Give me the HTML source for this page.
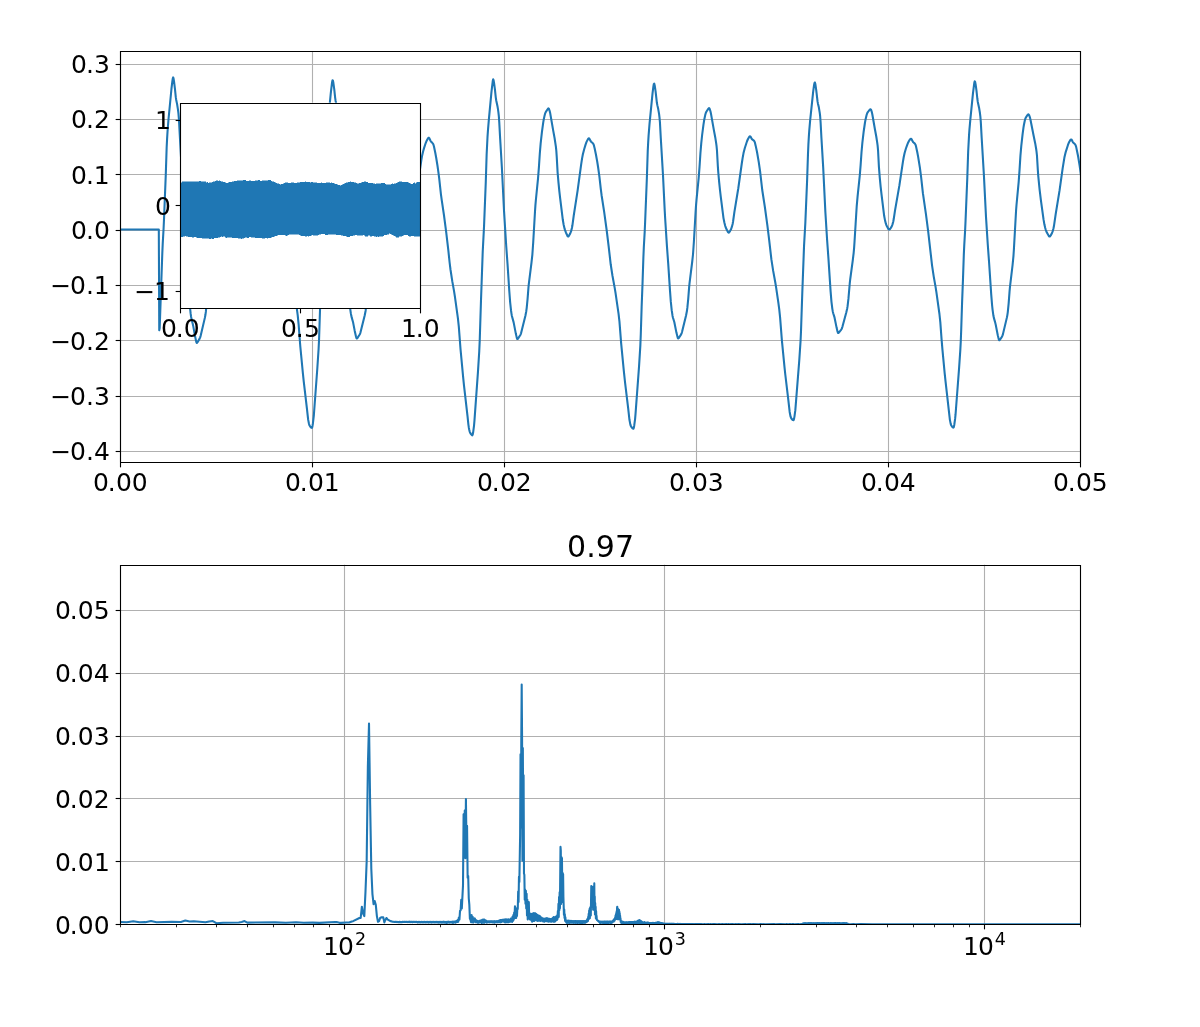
<!DOCTYPE html>
<html lang="en"><head><meta charset="utf-8"><title>0.97</title><style>html,body{margin:0;padding:0;background:#fff}svg{display:block}</style></head>
<body>
<svg width="1200" height="1027" viewBox="0 0 1200 1027" font-family="'DejaVu Sans','Liberation Sans',sans-serif" fill="#000">
<clipPath id="c1"><rect x="120" y="51.35" width="960" height="410.8"/></clipPath>
<clipPath id="c2"><rect x="120" y="564.85" width="960" height="359.45"/></clipPath>
<clipPath id="c3"><rect x="180" y="102.7" width="240" height="205.4"/></clipPath>
<rect width="1200" height="1027" fill="#fff"/>
<g id="ax1">
<path d="M120.5 51.35V462.15" stroke="#b0b0b0" stroke-width="1.111" fill="none"/>
<path d="M120.5 462.5V467.36" stroke="#000" stroke-width="1.111" fill="none"/>
<path d="M312.5 51.35V462.15" stroke="#b0b0b0" stroke-width="1.111" fill="none"/>
<path d="M312.5 462.5V467.36" stroke="#000" stroke-width="1.111" fill="none"/>
<path d="M504.5 51.35V462.15" stroke="#b0b0b0" stroke-width="1.111" fill="none"/>
<path d="M504.5 462.5V467.36" stroke="#000" stroke-width="1.111" fill="none"/>
<path d="M696.5 51.35V462.15" stroke="#b0b0b0" stroke-width="1.111" fill="none"/>
<path d="M696.5 462.5V467.36" stroke="#000" stroke-width="1.111" fill="none"/>
<path d="M888.5 51.35V462.15" stroke="#b0b0b0" stroke-width="1.111" fill="none"/>
<path d="M888.5 462.5V467.36" stroke="#000" stroke-width="1.111" fill="none"/>
<path d="M1080.5 51.35V462.15" stroke="#b0b0b0" stroke-width="1.111" fill="none"/>
<path d="M1080.5 462.5V467.36" stroke="#000" stroke-width="1.111" fill="none"/>
<path d="M120 451.5H1080" stroke="#b0b0b0" stroke-width="1.111" fill="none"/>
<path d="M115.64 451.5H120.5" stroke="#000" stroke-width="1.111" fill="none"/>
<path d="M120 396.5H1080" stroke="#b0b0b0" stroke-width="1.111" fill="none"/>
<path d="M115.64 396.5H120.5" stroke="#000" stroke-width="1.111" fill="none"/>
<path d="M120 340.5H1080" stroke="#b0b0b0" stroke-width="1.111" fill="none"/>
<path d="M115.64 340.5H120.5" stroke="#000" stroke-width="1.111" fill="none"/>
<path d="M120 285.5H1080" stroke="#b0b0b0" stroke-width="1.111" fill="none"/>
<path d="M115.64 285.5H120.5" stroke="#000" stroke-width="1.111" fill="none"/>
<path d="M120 230.5H1080" stroke="#b0b0b0" stroke-width="1.111" fill="none"/>
<path d="M115.64 230.5H120.5" stroke="#000" stroke-width="1.111" fill="none"/>
<path d="M120 174.5H1080" stroke="#b0b0b0" stroke-width="1.111" fill="none"/>
<path d="M115.64 174.5H120.5" stroke="#000" stroke-width="1.111" fill="none"/>
<path d="M120 119.5H1080" stroke="#b0b0b0" stroke-width="1.111" fill="none"/>
<path d="M115.64 119.5H120.5" stroke="#000" stroke-width="1.111" fill="none"/>
<path d="M120 64.5H1080" stroke="#b0b0b0" stroke-width="1.111" fill="none"/>
<path d="M115.64 64.5H120.5" stroke="#000" stroke-width="1.111" fill="none"/>
<text font-size="25" x="92.9 107.84 115.88 131.67" y="490.87">0.00</text>
<text font-size="25" x="284.9 299.84 307.88 323.63" y="490.87">0.01</text>
<text font-size="25" x="476.9 491.84 499.88 515.82" y="490.87">0.02</text>
<text font-size="25" x="668.9 683.84 691.88 707.85" y="490.87">0.03</text>
<text font-size="25" x="860.9 875.84 883.88 899.85" y="490.87">0.04</text>
<text font-size="25" x="1052.9 1067.84 1075.88 1091.76" y="490.87">0.05</text>
<text font-size="25" x="50.15 70 85.97 93.91" y="460.37">−0.4</text>
<text font-size="25" x="50.15 70 85.97 93.93" y="405.04">−0.3</text>
<text font-size="25" x="50.15 70 85.97 93.89" y="349.71">−0.2</text>
<text font-size="25" x="50.15 70 85.97 93.78" y="294.38">−0.1</text>
<text font-size="25" x="71 85.97 93.97" y="239.05">0.0</text>
<text font-size="25" x="71 85.97 93.78" y="183.72">0.1</text>
<text font-size="25" x="71 85.97 93.89" y="128.39">0.2</text>
<text font-size="25" x="71 85.97 93.93" y="73.06">0.3</text>
<path d="M119.63 229.55L158.81 229.55L159.25 330.25L159.69 328.04L162.3 253.34L162.73 243.63L163.6 228.31L164.04 218.44L165.78 174.63L166.65 147.76L167.09 138.88L167.52 131.69L168.39 120.49L171.44 88.98L172.31 81.69L172.75 78.66L173.18 77.4L173.62 78.79L174.05 81.67L174.92 88.67L175.79 97.21L176.23 99.98L177.1 104.16L177.97 109.6L178.41 113.17L178.84 118.05L181.89 172.9L183.2 201.15L184.07 217.95L185.81 246.49L187.11 265.27L188.86 293L189.73 304.82L190.6 313.21L191.03 316.42L191.47 318.88L192.77 323.93L193.21 325.9L194.95 335.68L196.26 341.88L196.69 342.96L197.13 342.73L197.56 342.15L199.74 338.37L200.18 337.37L200.61 335.93L204.96 317.38L205.4 315.03L205.84 311.94L206.71 303.4L208.01 287.2L211.06 262.07L211.49 257.88L211.93 252.67L212.37 245.92L214.54 208.34L214.98 202.95L217.15 180.61L217.59 175.47L218.9 156.2L219.77 145.26L221.07 133.09L222.38 123.25L222.81 120.61L223.69 116.29L224.12 114.52L224.56 113.18L224.99 112.24L226.73 109.38L227.17 108.73L227.6 108.39L228.04 108.81L228.91 111.34L229.78 115.61L232.39 130.72L233.7 137.74L235.01 146.48L235.44 150.6L236.75 172.72L237.62 182.64L238.49 191.19L239.36 198.78L241.97 219.64L242.84 224.3L243.71 227.84L244.15 229.23L245.02 231.42L246.32 234.15L246.76 234.91L247.2 235.05L247.63 234.75L248.5 233.53L249.37 231.94L250.24 229.63L251.11 226.37L251.55 223.93L252.86 214.57L257.21 187.51L260.69 162.55L261.56 157.13L262.43 152.96L263.74 148.17L265.05 144.08L265.92 141.71L266.35 140.73L267.66 138.39L268.09 137.88L268.53 137.7L268.96 138.07L270.27 140.63L270.71 141.16L272.01 142.26L272.45 142.73L272.88 143.36L273.32 144.47L274.19 148.12L275.49 154.49L277.24 164.85L278.54 174.18L280.72 193.3L283.33 210.7L285.94 230.23L287.69 244.85L289.86 264.23L291.6 275.67L293.78 287.79L294.65 293.33L296.83 308.57L297.7 315.23L298.57 323.78L300.31 346.47L302.92 373.67L303.79 381.83L306.84 407.83L308.15 419.63L309.02 424.02L309.45 425.31L310.32 426.69L310.76 427.22L311.2 427.62L311.63 427.85L312.07 427.74L312.5 425.95L312.94 423.23L313.81 415.72L317.29 368.76L318.6 348.82L319.03 340.16L320.34 299.96L322.08 250.89L323.39 226.25L325.13 182.77L326 155.63L326.43 145.14L326.87 137.08L327.3 130.47L328.18 119.99L330.79 93.12L332.09 82.24L332.53 80.29L332.96 80.77L333.4 83.05L334.27 89.36L335.14 97.53L335.58 100.7L336.88 106.74L337.75 112.25L338.19 116.02L338.62 121.83L339.49 137.92L341.24 167.02L342.98 202.43L343.85 218.29L345.59 245.7L346.9 263.67L348.64 290.32L349.51 301.82L350.38 310.03L350.81 313.15L351.25 315.59L351.69 317.39L352.99 321.92L354.73 330.91L356.04 336.81L356.47 338.27L356.91 338.51L357.35 338.13L359.52 334.78L359.96 333.96L360.39 332.85L364.75 315.26L365.62 310.7L366.49 303.07L367.79 287.08L368.23 282.79L370.84 261.99L371.71 253.88L372.58 241.14L374.32 210.83L374.76 204.58L377.37 177.65L378.24 166.42L379.11 153.07L379.55 147.57L380.42 138.63L381.29 131.22L382.16 124.67L383.03 119.35L383.9 115.28L384.34 113.67L384.77 112.52L385.21 111.69L386.95 109.11L387.39 108.57L387.82 108.38L388.26 108.99L388.69 110.22L389.13 111.64L389.56 113.64L392.61 131.09L393.92 138.09L395.22 146.93L395.66 151.21L396.53 167.04L396.96 173.32L397.84 183.1L398.71 191.55L399.58 199.08L402.19 219.8L403.06 224.4L403.93 227.9L404.37 229.28L405.24 231.44L406.54 234.16L406.98 234.91L407.41 235.05L407.85 234.75L408.72 233.53L409.59 231.96L410.46 229.66L411.33 226.45L411.77 224.04L413.07 214.72L417.43 187.8L420.04 168.84L421.35 160.13L422.22 155.17L423.09 151.48L423.96 148.4L425.7 143.05L426.57 140.9L427.88 138.53L428.31 137.96L428.75 137.71L429.18 138.01L429.62 138.81L430.49 140.76L430.92 141.41L432.23 142.75L433.1 143.92L433.54 144.93L433.97 146.54L435.28 152.77L436.15 157.46L437.45 165.49L438.32 171.56L439.2 178.43L440.94 194.27L441.81 200.63L443.98 215.25L446.16 231.87L448.34 250.45L449.64 262.75L450.52 269.75L452.26 281.13L454 290.9L454.87 296.44L457.92 318.42L458.79 326.36L460.53 349.26L463.14 377.14L464.01 385.64L467.49 415.96L468.37 424.36L468.8 427.48L469.24 429.78L469.67 431.59L470.11 432.66L470.98 434.11L471.85 435.08L472.28 435.32L472.72 434.62L473.15 432.3L474.03 425.54L474.46 420.57L477.94 372.15L479.25 351.2L479.69 341.4L480.99 300.56L482.73 251.52L484.04 226.41L485.78 182.06L486.65 154.33L487.52 136.8L487.96 130.32L488.83 119.81L491.44 92.06L492.75 81.04L493.18 79.36L493.62 80.31L494.05 82.85L494.92 89.31L495.79 97.55L496.23 100.48L497.54 106.56L497.97 109.2L498.41 112.28L498.84 116.23L499.28 122.61L500.15 138.61L501.89 167.77L504.07 211.77L506.24 246.3L507.55 264.33L509.29 290.99L510.16 302.37L511.03 310.48L511.47 313.57L511.9 315.98L513.64 322.37L515.82 333.59L516.69 337.39L517.13 338.84L517.56 339.05L518 338.66L520.18 335.27L520.61 334.45L521.05 333.33L525.4 315.72L526.27 311.19L526.71 307.78L527.58 298.88L528.45 287.68L528.88 283.34L531.49 262.54L532.37 254.53L533.24 242.02L534.98 211.74L535.41 205.35L535.85 200.28L538.03 178.39L538.9 167.33L539.77 154.05L540.64 143.61L541.94 131.83L543.25 122.32L543.69 119.79L544.56 115.64L544.99 113.97L545.43 112.73L545.86 111.87L547.6 109.25L548.04 108.66L548.47 108.38L548.91 108.84L549.35 110.01L549.78 111.42L550.22 113.32L553.26 130.91L554.57 137.97L555.88 146.63L556.31 150.61L556.75 157.07L557.62 172.58L558.49 182.67L559.36 191.32L560.23 198.98L562.84 220.04L563.71 224.95L564.58 228.66L565.02 230.14L565.89 232.47L567.2 235.28L567.63 236.18L568.07 236.57L568.5 236.34L568.94 235.83L570.24 233.49L571.11 231.13L571.98 227.78L572.42 225.27L573.73 215.59L577.64 190.45L581.13 164.59L582 158.86L582.87 154.29L584.18 149.2L585.48 144.91L586.35 142.41L586.79 141.38L588.09 138.92L588.53 138.41L588.96 138.27L589.4 138.7L590.71 141.22L591.14 141.73L592.88 143.26L593.32 143.86L593.75 144.86L594.62 148.32L595.93 154.47L597.24 161.75L598.11 167.23L599.41 176.69L600.72 188.32L601.59 195.24L604.2 212.12L606.81 231.24L608.56 245.53L610.73 264.51L612.47 275.77L614.65 287.59L615.52 292.9L618.57 313.91L619.44 321.43L621.18 343.56L623.79 370.6L625.1 382.77L628.15 408.11L629.45 419.79L630.32 424.37L630.76 425.83L631.2 426.64L632.07 427.86L632.5 428.3L632.94 428.6L633.37 428.73L633.81 427.74L634.24 425.44L635.11 418.81L635.55 413.63L639.03 366.69L640.34 345.63L640.77 334.74L641.64 306.95L642.52 283.59L643.39 257.29L643.82 247.26L644.69 231.92L645.13 222.07L646.87 177.94L647.74 151.1L648.18 142.39L648.61 135.36L649.48 124.44L652.53 93.47L653.4 86.49L653.84 83.99L654.27 83.66L654.71 85.41L655.58 91.46L656.88 102.81L657.32 105.13L658.19 108.83L659.06 113.94L659.49 117.36L659.93 122.23L660.8 138.19L662.98 174.81L664.72 210.64L665.15 218.29L666.9 245.63L668.2 263.44L669.94 289.92L670.81 301.66L671.69 310.13L672.56 315.89L672.99 317.74L674.3 322.06L676.47 332.86L677.78 338.11L678.22 338.53L678.65 338.22L680.83 334.88L681.26 334.09L681.7 333.04L682.13 331.52L686.05 315.46L686.92 311.02L687.36 307.7L688.23 298.9L689.1 287.62L689.54 283.18L692.15 262.25L693.02 254.25L693.89 241.73L695.63 211.3L696.07 204.9L696.5 199.81L698.68 177.81L699.55 166.63L700.42 153.27L701.29 142.91L702.16 134.76L703.47 124.57L704.34 119.2L705.21 115.1L705.64 113.47L706.08 112.29L706.52 111.46L708.26 108.86L708.69 108.31L709.13 108.1L709.56 108.66L710 109.83L710.43 111.21L710.87 113.16L713.92 130.31L715.22 137.19L716.09 142.67L716.53 145.95L716.96 150.24L717.84 166.09L718.27 172.25L719.14 181.91L720.01 190.26L720.88 197.69L723.49 218.12L724.37 222.57L725.24 225.95L725.67 227.26L726.54 229.31L727.85 231.89L728.28 232.55L728.72 232.61L729.15 232.3L730.03 231.09L730.9 229.54L731.77 227.22L732.64 223.96L733.07 221.48L734.38 212.2L738.3 188.25L741.78 163.49L742.65 157.89L743.52 153.09L744.83 147.95L747.01 141.28L747.88 139.22L748.75 137.65L749.18 136.96L749.62 136.47L750.05 136.31L750.49 136.62L751.79 138.99L752.23 139.45L753.54 140.36L753.97 140.76L754.41 141.33L754.84 142.37L755.71 145.88L757.02 152.04L758.76 162.12L760.07 171.22L762.24 190L764.86 206.99L767.47 226.08L769.21 240.4L771.39 259.46L773.13 270.68L775.3 282.46L776.18 287.84L778.35 302.71L779.22 309.17L780.09 317.4L781.84 339.83L784.45 366.68L785.32 374.75L788.37 400.27L789.67 411.98L790.54 416.44L790.98 417.79L791.41 418.5L792.28 419.58L792.72 419.94L793.15 420.14L793.59 420.16L794.03 418.84L794.46 416.57L795.33 410.14L799.25 360.65L800.56 340.98L800.99 331.36L802.3 292.5L804.04 245.88L805.35 222.62L807.09 180.91L807.96 154.76L808.39 144.65L808.83 136.92L809.26 130.6L810.13 120.66L813.18 91.71L814.05 85.23L814.49 82.88L814.92 82.47L815.36 84.09L816.23 90.11L817.54 101.42L817.97 103.64L818.84 107.3L819.71 112.58L820.15 116.24L820.58 121.96L821.45 138.19L823.2 167.61L825.37 212L827.11 239.97L828.42 258.15L830.6 291.35L831.47 301.79L832.34 308.85L832.77 311.4L833.21 313.2L834.52 317.42L836.69 328.09L837.56 331.66L838 332.9L838.43 333L838.87 332.69L841.05 329.9L841.48 329.23L841.92 328.32L842.35 326.97L846.27 312.43L847.14 308.73L847.58 306.19L848.45 298.71L849.75 283.48L850.19 279.5L852.8 260.08L853.67 252.77L854.11 247.87L854.54 241.55L856.72 206.06L857.59 196.32L859.77 175.66L860.64 164.92L861.51 152.25L862.38 142.55L863.69 131.49L864.99 122.51L865.43 120.09L866.3 116.17L866.73 114.54L867.17 113.28L867.6 112.44L868.04 111.81L869.78 109.71L870.22 109.33L870.65 109.27L871.09 109.93L871.52 111.15L871.96 112.64L872.39 114.8L875.01 129.8L876.31 136.75L877.18 142.3L877.62 145.68L878.05 150.31L878.92 166.9L879.79 177.89L880.66 186.87L881.54 194.7L884.15 215.8L885.02 220.37L885.89 223.7L886.32 224.95L887.2 226.85L888.5 229.23L888.94 229.55L889.37 229.51L889.81 229.22L890.68 228.15L891.55 226.78L892.42 224.61L893.29 221.48L893.73 219.03L895.03 210.32L899.39 185.38L902.87 162.1L903.74 156.99L904.61 152.93L905.92 148.48L907.22 144.83L908.09 142.66L908.96 140.97L909.84 139.68L910.27 139.15L910.71 138.83L911.14 138.83L911.58 139.28L912.88 141.83L913.32 142.3L914.62 143.39L915.06 143.91L915.49 144.66L915.93 146.04L917.24 152.04L918.11 156.59L919.85 167.43L921.15 177.37L922.9 193.22L925.94 214.14L928.12 230.87L932.04 265.37L933.78 276.86L935.52 286.57L936.39 292.04L939.44 313.99L940.31 322.14L941.62 339.89L942.49 350.21L944.66 373.12L945.54 381.48L949.89 419.86L950.76 424.12L951.2 425.27L952.07 426.6L952.5 427.1L952.94 427.45L953.37 427.62L953.81 427.03L954.24 425.02L955.11 418.89L955.55 414.47L959.03 368.87L960.34 349.62L960.77 341.45L961.21 329.6L962.08 302.65L962.95 280.15L963.82 254.56L964.26 245.08L965.13 230.17L965.56 220.59L967.3 177.79L968.18 151.2L969.05 135.11L969.48 129.13L970.35 119.36L972.96 93.46L974.27 83.12L974.71 81.36L975.14 81.92L975.58 84.2L976.45 90.44L977.32 98.51L977.75 101.71L979.06 107.7L979.93 113.04L980.37 116.61L980.8 121.86L981.67 137.76L983.85 174.11L986.03 217.33L987.77 244.53L989.07 262.27L991.25 294.89L992.12 305.51L992.56 309.57L993.43 315.79L993.86 317.91L995.17 322.38L995.6 324.17L997.78 335.19L998.65 338.88L999.09 340.1L999.52 340.14L999.96 339.71L1001.7 337.09L1002.13 336.36L1002.57 335.37L1003.01 333.87L1006.92 317.38L1007.36 315.1L1007.79 312.11L1008.66 303.4L1009.54 291.65L1009.97 286.85L1012.58 265L1013.45 256.11L1013.89 249.54L1016.07 210.51L1016.5 204.98L1018.68 181.85L1019.55 169.89L1020.42 155.91L1021.29 145.82L1022.6 134.12L1023.47 127.65L1023.9 125.01L1024.77 120.75L1025.21 119.1L1025.64 117.95L1026.08 117.17L1027.82 114.7L1028.26 114.32L1028.69 114.42L1029.13 115.18L1029.56 116.31L1030 117.62L1030.43 119.48L1033.48 135.04L1035.22 143.43L1036.09 148.5L1036.53 151.55L1036.96 155.51L1037.84 170.07L1038.27 176.1L1039.58 189.29L1040.88 200.05L1043.49 219.15L1044.37 224.31L1045.24 227.97L1045.67 229.48L1046.11 230.78L1046.98 232.79L1048.72 235.83L1049.15 236.44L1049.59 236.56L1050.03 236.3L1050.9 235.13L1051.77 233.6L1052.64 231.4L1053.51 228.3L1053.94 226.06L1055.69 214.08L1059.6 190.16L1062.65 168.36L1064.39 157.56L1065.7 152.09L1067.88 145.2L1068.75 142.95L1069.18 142.06L1070.49 139.85L1070.92 139.44L1071.36 139.42L1071.79 139.96L1072.66 141.8L1073.1 142.49L1074.84 144.06L1075.28 144.61L1075.71 145.44L1076.15 146.91L1077.89 155.2L1079.63 165.57L1080.94 174.93L1082.68 190.74" stroke="#1f77b4" stroke-width="2.083" fill="none" stroke-linejoin="round" stroke-linecap="square" clip-path="url(#c1)"/>
<path d="M120.5 462.5V51.5M1080.5 462.5V51.5M120.5 462.5H1080.5M120.5 51.5H1080.5" stroke="#000" stroke-width="1.111" fill="none" stroke-linecap="square"/>
</g>
<g id="ax2">
<path d="M344.5 564.85V924.3" stroke="#b0b0b0" stroke-width="1.111" fill="none"/>
<path d="M344.5 924.5V929.36" stroke="#000" stroke-width="1.111" fill="none"/>
<path d="M664.5 564.85V924.3" stroke="#b0b0b0" stroke-width="1.111" fill="none"/>
<path d="M664.5 924.5V929.36" stroke="#000" stroke-width="1.111" fill="none"/>
<path d="M984.5 564.85V924.3" stroke="#b0b0b0" stroke-width="1.111" fill="none"/>
<path d="M984.5 924.5V929.36" stroke="#000" stroke-width="1.111" fill="none"/>
<path d="M120.5 924.5V927.28" stroke="#000" stroke-width="0.833" fill="none"/>
<path d="M176.5 924.5V927.28" stroke="#000" stroke-width="0.833" fill="none"/>
<path d="M216.5 924.5V927.28" stroke="#000" stroke-width="0.833" fill="none"/>
<path d="M247.5 924.5V927.28" stroke="#000" stroke-width="0.833" fill="none"/>
<path d="M273.5 924.5V927.28" stroke="#000" stroke-width="0.833" fill="none"/>
<path d="M294.5 924.5V927.28" stroke="#000" stroke-width="0.833" fill="none"/>
<path d="M313.5 924.5V927.28" stroke="#000" stroke-width="0.833" fill="none"/>
<path d="M329.5 924.5V927.28" stroke="#000" stroke-width="0.833" fill="none"/>
<path d="M440.5 924.5V927.28" stroke="#000" stroke-width="0.833" fill="none"/>
<path d="M496.5 924.5V927.28" stroke="#000" stroke-width="0.833" fill="none"/>
<path d="M536.5 924.5V927.28" stroke="#000" stroke-width="0.833" fill="none"/>
<path d="M567.5 924.5V927.28" stroke="#000" stroke-width="0.833" fill="none"/>
<path d="M593.5 924.5V927.28" stroke="#000" stroke-width="0.833" fill="none"/>
<path d="M614.5 924.5V927.28" stroke="#000" stroke-width="0.833" fill="none"/>
<path d="M633.5 924.5V927.28" stroke="#000" stroke-width="0.833" fill="none"/>
<path d="M649.5 924.5V927.28" stroke="#000" stroke-width="0.833" fill="none"/>
<path d="M760.5 924.5V927.28" stroke="#000" stroke-width="0.833" fill="none"/>
<path d="M816.5 924.5V927.28" stroke="#000" stroke-width="0.833" fill="none"/>
<path d="M856.5 924.5V927.28" stroke="#000" stroke-width="0.833" fill="none"/>
<path d="M887.5 924.5V927.28" stroke="#000" stroke-width="0.833" fill="none"/>
<path d="M913.5 924.5V927.28" stroke="#000" stroke-width="0.833" fill="none"/>
<path d="M934.5 924.5V927.28" stroke="#000" stroke-width="0.833" fill="none"/>
<path d="M953.5 924.5V927.28" stroke="#000" stroke-width="0.833" fill="none"/>
<path d="M969.5 924.5V927.28" stroke="#000" stroke-width="0.833" fill="none"/>
<path d="M1080.5 924.5V927.28" stroke="#000" stroke-width="0.833" fill="none"/>
<path d="M120 924.5H1080" stroke="#b0b0b0" stroke-width="1.111" fill="none"/>
<path d="M115.64 924.5H120.5" stroke="#000" stroke-width="1.111" fill="none"/>
<path d="M120 861.5H1080" stroke="#b0b0b0" stroke-width="1.111" fill="none"/>
<path d="M115.64 861.5H120.5" stroke="#000" stroke-width="1.111" fill="none"/>
<path d="M120 798.5H1080" stroke="#b0b0b0" stroke-width="1.111" fill="none"/>
<path d="M115.64 798.5H120.5" stroke="#000" stroke-width="1.111" fill="none"/>
<path d="M120 736.5H1080" stroke="#b0b0b0" stroke-width="1.111" fill="none"/>
<path d="M115.64 736.5H120.5" stroke="#000" stroke-width="1.111" fill="none"/>
<path d="M120 673.5H1080" stroke="#b0b0b0" stroke-width="1.111" fill="none"/>
<path d="M115.64 673.5H120.5" stroke="#000" stroke-width="1.111" fill="none"/>
<path d="M120 610.5H1080" stroke="#b0b0b0" stroke-width="1.111" fill="none"/>
<path d="M115.64 610.5H120.5" stroke="#000" stroke-width="1.111" fill="none"/>
<text font-size="25"><tspan x="322.89" y="954.97">1</tspan><tspan x="338.06" y="954.97">0</tspan><tspan x="354.92" y="945.4" font-size="17.5">2</tspan></text>
<text font-size="25"><tspan x="642.89" y="954.97">1</tspan><tspan x="658.06" y="954.97">0</tspan><tspan x="674.87" y="945.4" font-size="17.5">3</tspan></text>
<text font-size="25"><tspan x="962.89" y="954.74">1</tspan><tspan x="978.06" y="954.74">0</tspan><tspan x="994.86" y="945.17" font-size="17.5">4</tspan></text>
<text font-size="25" x="55.1 69.78 77.82 93.86" y="933.8">0.00</text>
<text font-size="25" x="55.1 69.78 77.82 93.88" y="870.88">0.01</text>
<text font-size="25" x="55.1 69.78 77.82 93.76" y="807.96">0.02</text>
<text font-size="25" x="55.1 69.78 77.82 93.8" y="745.04">0.03</text>
<text font-size="25" x="55.1 69.78 77.82 93.8" y="682.13">0.04</text>
<text font-size="25" x="55.1 69.78 77.82 93.7" y="619.21">0.05</text>
<text font-size="30" x="566.92 586.25 595.83 615.02" y="556.52">0.97</text>
<path d="M112.87 922.02L120 921.97L126.78 922.22L133.25 921.26L139.42 922.21L145.34 922.15L151.01 921.08L156.46 922.22L171.64 921.85L180.91 921.94L185.32 920.55L189.59 921.54L193.74 921.27L205.49 922.18L209.2 921.42L212.81 921.04L216.33 923.2L223.11 922.71L238.74 922.49L241.67 921.96L244.53 921.11L247.34 922.64L274.98 922.35L285.92 922.69L296.07 922.26L303.69 922.83L312.66 922.62L319.44 922.84L335.07 922.03L336.54 922.11L339.44 922.84L340.86 922.91L346.42 922.49L349.12 922.57L351.77 921.47L353.07 921.15L359.42 918.01L360.66 918.01L361.88 906.68L363.09 913.6L364.3 916.12L365.49 891.58L366.67 861.38L367.85 767.01L369.01 723.59L370.16 804.76L371.31 868.93L372.44 894.1L373.57 904.17L374.68 901.02L375.79 904.8L376.89 916.12L377.98 921.78L379.06 921.15L380.13 918.01L381.2 917.38L383.3 917.38L384.34 922.41L385.38 919.9L386.4 918.01L387.42 919.27L390.43 921.15L391.42 921.32L392.4 921.75L393.38 921.73L394.35 922.05L395.31 921.81L396.26 922.11L397.21 921.86L398.15 922.21L399.09 921.88L400.02 922.12L400.94 921.9L401.86 922.22L402.77 921.83L403.68 922.07L404.58 921.81L405.47 922.07L406.36 921.73L407.24 922.12L408.12 921.7L408.99 922.21L409.85 921.64L410.72 922.18L411.57 921.7L412.42 922.28L413.27 921.72L414.1 922.12L414.94 921.72L415.77 922.16L416.59 921.81L417.41 922.45L418.23 921.83L419.04 922.5L419.85 921.85L420.65 922.41L421.44 921.82L422.23 922.46L423.02 921.87L423.8 922.49L424.58 921.8L425.36 922.38L426.13 921.82L426.89 922.36L427.65 921.79L428.41 922.54L429.17 921.85L429.91 922.49L430.66 921.81L431.4 922.61L432.14 921.75L432.87 922.36L433.6 921.75L434.33 922.4L435.05 921.78L435.77 922.37L436.48 921.78L437.19 922.39L437.9 921.79L438.6 922.71L439.3 921.81L440 922.53L440.69 921.8L441.38 922.64L442.07 921.73L442.75 922.57L443.43 921.7L444.11 922.56L444.78 921.77L445.45 922.73L446.12 921.79L446.78 922.85L447.44 921.73L448.1 922.55L448.75 921.72L449.4 922.61L450.05 921.75L450.7 922.48L451.34 921.75L451.98 922.58L452.61 921.66L453.25 922.92L453.88 921.58L454.5 922.48L455.13 921.45L455.75 922.66L456.37 921.1L456.99 921.87L457.6 919.99L458.21 921.82L458.82 917.58L459.42 919.68L460.03 910.81L460.63 910.45L461.22 899.79L461.82 908.43L463 885.44L463.59 814.21L464.18 855.85L464.76 810.51L465.34 858.25L465.92 799.09L466.49 843.44L467.06 825.68L467.64 877.7L468.2 876.08L468.77 898.22L469.33 904.77L469.89 918.75L470.45 919.44L471.01 922.15L471.57 915.06L472.12 922.17L472.67 916.89L473.22 922.54L473.76 918.62L474.31 920.96L474.85 918.42L475.39 922.13L475.93 919.96L476.46 922.24L477 920.79L477.53 922.73L478.06 921.32L478.58 922.7L479.11 920.96L479.63 922.31L480.15 920.63L480.67 922.25L481.19 920.39L481.71 922.97L482.22 919.84L482.73 922.76L483.24 919.59L483.75 922.64L484.26 919.45L484.76 922.64L485.26 920.27L485.76 922L486.26 920.78L486.76 922.6L487.26 921.24L487.75 922.4L488.24 921.31L488.73 922.21L489.22 921.23L489.71 922.35L490.19 921.22L490.68 922.26L491.16 921.2L491.64 922.22L492.12 921.25L492.59 922.3L493.07 921.26L493.54 922.55L494.01 921.25L494.48 922.7L494.95 921.16L495.42 922.39L495.89 921.24L496.35 922.19L496.81 921.16L497.27 922.32L497.73 921L498.19 922.21L498.65 920.76L499.1 922.18L499.55 920.42L500.01 922.14L500.46 920.14L500.91 922.34L501.35 919.99L501.8 921.84L502.24 919.77L502.69 921.42L503.13 919.87L503.57 921.41L504.01 919.61L504.45 922L504.88 919.5L505.32 922.48L505.75 919.3L506.18 922.2L506.62 919.6L507.04 922.29L507.47 919.53L507.9 922.17L508.33 919.29L508.75 922.23L509.17 919.53L509.59 921.82L510.02 919.46L510.43 921.79L510.85 918.59L511.27 921.57L511.68 918.2L512.1 921.9L512.51 916.89L512.92 920.86L513.33 915L513.74 919.74L514.15 912.45L514.56 915.73L514.96 906.31L515.37 918.07L515.77 908.66L516.17 917.94L516.58 911.45L516.98 915.96L517.37 907.45L517.77 909.08L518.17 891.49L518.56 902.05L518.96 876.68L519.35 882.01L520.13 834.97L520.52 754.4L520.91 827.54L521.3 736.36L521.69 684.58L522.07 736.56L522.46 860.67L522.84 747.95L523.22 827.02L523.6 775.31L523.98 873.47L524.36 874.84L524.74 899.67L525.12 889.62L525.49 903.67L525.87 890.7L526.24 908.39L526.62 893.7L526.99 915.44L527.36 899.83L527.73 919.39L528.1 901.83L528.47 915.7L528.83 902.02L529.2 917.61L529.57 913.11L529.93 919.42L530.29 913.8L530.66 918.33L531.02 914.13L531.38 920.54L531.74 914.71L532.1 921.72L532.45 913.57L532.81 918.62L533.17 913.77L533.52 920.85L533.88 913.14L534.23 920.85L534.58 913.55L534.93 918.39L535.28 913.19L535.63 920.02L535.98 913.85L536.33 920.51L536.68 914.89L537.02 919.67L537.37 914.72L537.71 920.84L538.06 915.24L538.4 920.74L538.74 915.76L539.08 919.77L539.42 915.84L539.76 920.74L540.1 916.17L540.44 920.99L540.77 917.23L541.11 920.81L541.45 917.49L541.78 920.73L542.11 917.98L542.45 920.56L542.78 918.34L543.11 921.37L543.44 918.95L543.77 921.14L544.1 918.89L544.43 921.6L544.75 918.73L545.08 921.14L545.41 918.5L545.73 920.54L546.06 918.26L546.38 921.04L546.7 918.21L547.03 921.27L547.35 918.39L547.67 921.2L547.99 918.56L548.31 921.76L548.62 918.83L548.94 920.54L549.26 918.88L549.58 921.54L549.89 919.06L550.21 921.57L550.52 919.14L550.83 921.75L551.15 919.24L551.46 921.62L551.77 918.89L552.08 920.7L552.39 918.35L552.7 920.52L553.01 917.68L553.31 921.68L553.62 917.14L553.93 919.93L554.23 917.24L554.54 921.75L554.84 917.31L555.15 921.33L555.45 916.91L555.75 920.61L556.05 916.87L556.36 919.82L556.66 916.95L556.96 919.85L557.26 915.19L557.55 918.88L557.85 911.1L558.15 914L558.45 903.76L558.74 916.87L559.04 897.12L559.33 910.15L559.63 892.2L559.92 908.36L560.5 846.91L560.8 850.53L561.09 903.9L561.38 857.11L561.67 901.7L561.96 858.01L562.25 890.44L562.53 872.73L562.82 902.04L563.11 874.02L563.39 896.78L563.96 914.86L564.25 909.59L564.53 917.88L564.82 914.17L565.1 920.87L565.38 917.35L565.66 921.53L565.94 920.37L566.22 922.3L566.5 920.58L566.78 922.83L567.06 920.89L567.34 922.75L567.62 920.71L567.9 922.97L568.17 920.77L568.45 922.52L568.72 920.73L569 922.77L569.27 920.82L569.55 922.9L569.82 921.01L570.09 922.18L570.37 921.07L570.64 922.66L570.91 920.89L571.18 922.74L571.45 921.04L571.72 922.72L571.99 921.13L572.26 922.42L572.52 921.2L572.79 922.66L573.06 921.08L573.32 922.31L573.59 921.27L573.86 922.94L574.12 921.14L574.39 922.53L574.65 921.32L574.91 922.31L575.18 921.16L575.44 922.9L575.7 921.25L575.96 922.63L576.22 921.33L576.48 922.62L576.74 921.27L577 922.86L577.26 921.3L577.52 922.6L577.78 921.37L578.04 922.9L578.29 921.18L578.55 922.77L578.81 921.23L579.06 922.7L579.32 921.19L579.57 922.51L579.83 921.34L580.08 923.04L580.33 921.36L580.59 922.97L580.84 921.22L581.09 922.67L581.34 921.25L581.59 922.88L581.84 921.32L582.09 922.41L582.34 921.21L582.59 922.92L582.84 921.27L583.09 922.93L583.34 921.37L583.59 922.4L583.83 921.34L584.08 922.73L584.33 921.33L584.57 922.75L584.82 921.26L585.06 922.96L585.31 921.16L585.55 922.54L585.79 921.2L586.04 922.27L586.28 920.85L586.52 922L586.76 920.2L587.01 921.72L587.25 919.2L587.49 921.28L587.73 918.59L587.97 920.84L588.21 916.77L588.45 918.91L588.68 913.74L588.92 918.92L589.16 910.52L589.4 917.24L589.63 908.7L589.87 918.24L590.11 907.82L590.34 914.75L590.58 906.79L590.81 915.37L591.28 885.92L591.52 887.93L591.75 901.69L591.98 888.78L592.21 907.06L592.45 888.28L592.68 903.17L592.91 886.67L593.14 909.67L593.37 888.5L593.6 904.71L593.83 887.05L594.06 905.75L594.29 883.4L594.52 907.26L594.75 896.46L594.98 914.51L595.2 902.93L595.43 913.09L595.66 906.88L595.88 918.45L596.11 911L596.34 917.48L596.56 915.84L596.79 919.48L597.01 919.9L597.68 920.49L597.91 920.47L598.13 920.96L598.35 920.8L598.57 921.43L598.8 921.1L599.02 921.84L599.24 921.41L599.46 922.3L599.68 921.69L599.9 922.9L600.12 921.83L600.34 922.97L600.56 921.84L600.78 922.84L601 921.82L601.21 922.83L601.43 921.89L601.65 922.75L601.86 921.82L602.08 922.68L602.3 921.89L602.51 922.83L602.73 921.85L602.94 922.95L603.16 921.91L603.37 922.86L603.59 921.83L603.8 922.57L604.02 921.83L604.23 922.94L604.44 921.84L604.66 922.78L604.87 921.88L605.08 922.84L605.29 921.89L605.5 923.03L605.71 921.92L605.92 922.81L606.13 921.85L606.34 922.82L606.55 921.82L606.76 922.63L606.97 921.85L607.18 922.99L607.39 921.84L607.6 922.8L607.81 921.84L608.01 922.99L608.22 921.92L608.43 922.97L608.64 921.89L608.84 922.83L609.05 921.86L609.25 922.7L609.46 921.79L609.66 922.8L609.87 921.85L610.07 922.83L610.28 921.78L610.48 923.04L610.69 921.86L610.89 922.81L611.09 921.83L611.29 922.98L611.5 921.84L611.7 922.7L611.9 921.91L612.1 922.56L612.3 921.4L612.5 922.41L612.71 920.99L612.91 921.74L613.11 920.51L613.31 921.35L613.5 920.04L613.7 921.52L613.9 919.63L614.1 920.77L614.3 919.05L614.5 920.66L614.7 918.64L614.89 919.59L615.09 917.71L615.29 919.53L615.48 915.86L615.68 918.38L615.88 914.5L616.07 918.95L616.27 913.01L616.46 917.54L616.66 911.27L616.85 915.96L617.05 908.23L617.24 906.68L617.44 908.41L617.63 919.12L617.82 908.73L618.02 915.57L618.21 910.28L618.4 918.26L618.59 909.91L618.79 919.12L618.98 909.86L619.17 919.22L619.36 911.44L619.55 917.5L619.74 913.35L619.93 917.94L620.12 915.91L620.31 919.91L620.5 918.31L620.69 921.84L620.88 920.63L621.07 922.74L621.26 921.34L621.45 922.97L621.64 921.41L621.82 922.76L622.01 921.61L622.2 922.79L622.39 921.69L622.57 922.65L622.76 921.77L622.95 923.09L623.13 921.91L623.32 922.65L623.5 921.95L623.69 922.91L623.88 922.14L624.06 922.93L624.24 922.19L624.43 922.95L624.61 922.3L624.8 923.13L624.98 922.44L625.16 923.11L625.35 922.44L625.53 922.87L625.71 922.39L625.9 922.86L626.08 922.39L626.26 922.91L626.44 922.38L626.62 922.93L626.8 922.4L626.99 922.91L627.17 922.3L627.35 922.89L627.53 922.28L627.71 922.95L627.89 922.25L628.07 923.12L628.25 922.24L628.43 923L628.61 922.25L628.78 923.02L628.96 922.21L629.14 923.1L629.32 922.29L629.5 923.01L629.67 922.21L629.85 922.96L630.03 922.26L630.21 923.15L630.38 922.12L630.56 923.2L630.74 922.11L630.91 923.12L631.09 922.18L631.26 922.94L631.44 922.06L631.61 923.26L631.79 922.08L631.96 922.9L632.14 922.08L632.31 923.07L632.49 922.03L632.66 923.07L632.83 922.07L633.01 923.19L633.18 922.05L633.35 922.95L633.53 921.99L633.7 923.13L633.87 921.93L634.04 923.26L634.21 921.89L634.39 923.39L634.56 921.88L634.73 922.87L634.9 921.99L635.07 923.07L635.24 921.98L635.41 923.34L635.58 921.88L635.75 923.08L635.92 921.96L636.09 923.1L636.26 921.67L636.43 923.45L636.6 921.46L636.77 922.85L636.94 921.5L637.1 923.37L637.27 921.31L637.44 923.47L637.61 921.15L637.78 922.76L637.94 920.87L638.11 922.97L638.28 920.6L638.44 922.38L638.61 920.44L638.78 923.2L638.94 920.46L639.11 922.75L639.27 920.19L639.44 922.74L639.61 920.09L639.77 923.43L639.94 920.66L640.1 922.69L640.26 920.73L640.43 922.93L640.59 920.81L640.76 923.43L640.92 921.14L641.08 923.61L641.25 921.2L641.41 923.31L641.57 921.57L641.74 922.85L641.9 921.75L642.06 923.41L642.22 922.07L642.39 923.45L642.55 922.19L642.71 923.39L642.87 922.33L643.03 923.62L643.19 922.43L643.35 923.28L643.52 922.51L643.68 923.35L643.84 922.54L644 923.45L644.16 922.62L644.32 923.51L644.48 922.53L644.64 923.39L644.79 922.55L644.95 923.47L645.11 922.62L645.27 923.52L645.43 922.69L645.59 923.34L645.75 922.74L645.9 923.38L646.06 922.74L646.22 923.32L646.38 922.71L646.54 923.59L646.69 922.68L646.85 923.55L647.01 922.71L647.16 923.66L647.32 922.77L647.48 923.58L647.63 922.84L647.79 923.57L647.94 922.85L648.1 923.75L648.25 922.87L648.41 923.47L648.56 922.81L648.72 923.64L648.87 922.91L649.03 923.73L649.18 922.95L649.34 923.43L649.49 922.96L649.64 923.57L649.8 922.99L649.95 923.46L650.1 923.02L650.26 923.68L650.41 922.98L650.56 923.77L650.72 923.01L650.87 923.79L651.02 922.95L651.17 923.61L651.33 922.94L651.48 923.67L651.63 922.95L651.78 923.59L651.93 922.97L652.08 923.53L652.23 922.98L652.38 923.57L652.53 922.92L652.69 923.59L652.84 923.02L652.99 923.8L653.14 923L653.29 923.56L653.44 922.93L653.58 923.63L653.73 922.95L653.88 923.73L654.03 923.03L654.18 923.65L654.33 922.97L654.48 923.57L654.63 922.96L654.78 923.83L654.92 923.03L655.07 923.82L655.22 922.98L655.37 923.48L655.51 922.87L655.66 923.84L655.81 922.81L655.96 923.65L656.1 922.8L656.25 923.41L656.4 922.66L656.54 923.9L656.69 922.72L656.83 923.92L656.98 922.66L657.13 923.41L657.27 922.6L657.42 923.69L657.56 922.42L657.71 923.56L657.85 922.4L658 923.47L658.14 922.36L658.29 923.65L658.43 922.57L658.58 923.59L658.72 922.63L658.86 923.52L659.01 922.56L659.15 923.6L659.29 922.64L659.44 923.93L659.58 922.78L659.72 923.97L659.87 922.76L660.01 923.79L660.15 922.85L660.29 923.68L660.44 922.94L660.58 923.89L660.72 923.04L660.86 923.79L661 923.14L661.15 923.69L661.29 923.19L661.43 923.96L661.57 923.14L661.71 923.75L661.85 923.22L661.99 924L662.13 923.28L662.27 923.92L662.41 923.3L662.55 923.83L662.69 923.39L662.83 923.96L662.97 923.43L663.11 923.97L663.25 923.49L663.39 923.94L663.53 923.5L663.67 924.01L663.97 923.61L664.57 924L665.17 923.69L665.77 924.03L666.37 923.68L666.97 923.99L667.57 923.76L668.17 923.96L668.77 923.75L669.37 924.05L669.97 923.73L670.57 924L671.17 923.84L671.77 924.08L672.37 923.82L672.97 924.05L673.57 923.82L674.17 924.04L674.77 923.89L675.37 924.06L675.97 923.93L676.57 924.05L677.17 923.89L678.97 924.06L679.57 923.9L680.17 924.07L680.77 923.9L681.37 924.11L681.97 923.94L682.57 924.1L684.37 923.97L684.97 924.12L685.57 923.99L686.17 924.15L686.77 924.01L689.17 924.02L689.77 924.16L691.57 924.01L692.17 924.19L692.77 924.05L693.37 924.18L693.97 924.01L694.57 924.16L695.17 924.06L695.77 924.19L696.37 924.03L696.97 924.16L699.97 924.09L700.57 924.22L701.17 924.07L702.97 924.2L704.77 924.07L705.37 924.2L708.37 924.07L708.97 924.21L710.77 924.11L711.37 924.23L713.17 924.08L713.77 924.23L714.37 924.07L717.37 924.21L719.17 924.08L719.77 924.23L722.77 924.07L723.37 924.23L726.37 924.1L726.97 924.24L728.77 924.08L729.37 924.2L731.17 924.08L731.77 924.22L732.37 924.09L734.17 924.22L735.97 924.09L736.57 924.23L738.37 924.1L741.37 924.21L745.57 924.1L746.17 924.23L749.17 924.12L749.77 924.24L750.37 924.11L752.17 924.22L752.77 924.11L759.37 924.23L759.97 924.12L765.37 924.23L774.37 924.12L774.97 924.23L780.37 924.12L785.77 924.23L786.37 924.12L788.17 924.23L789.97 924.11L791.77 924.24L792.37 924.12L792.97 924.23L793.57 924.12L794.17 924.23L798.37 924.11L798.97 924.24L801.97 924.14L802.57 923.88L803.17 923.28L803.77 923.35L804.37 923.16L804.97 923.37L805.57 923.11L806.17 923.38L806.77 923.18L807.37 923.36L807.97 923.08L808.57 923.51L809.17 923.14L809.77 923.46L810.37 923.17L810.97 923.45L811.57 923.07L812.17 923.47L812.77 923.19L813.37 923.4L813.97 923.07L814.57 923.51L815.17 923.1L815.77 923.36L816.37 923.12L816.97 923.49L817.57 923.07L818.17 923.5L818.77 923.12L819.37 923.5L819.97 923.06L820.57 923.38L821.17 923.14L821.77 923.43L822.37 923.08L822.97 923.46L823.57 923.17L824.17 923.49L824.77 923.11L825.37 923.53L825.97 923.1L826.57 923.53L827.17 923.16L827.77 923.34L828.37 923.05L828.97 923.47L829.57 923.19L830.17 923.52L830.77 923.16L831.37 923.52L831.97 923.11L832.57 923.39L833.17 923.16L833.77 923.38L834.37 923.09L834.97 923.44L835.57 923.06L836.17 923.34L836.77 923.15L837.37 923.47L837.97 923.12L838.57 923.43L839.17 923.1L839.77 923.48L840.37 923.18L840.97 923.51L841.57 923.19L842.17 923.43L842.77 923.11L843.37 923.45L843.97 923.04L844.57 923.48L845.17 923.11L845.77 923.54L846.37 923.04L846.97 923.54L847.57 923.52L848.17 924.08L850.57 924.24L853.57 924.12L855.37 924.23L860.77 924.13L872.17 924.24L1082.77 924.25" stroke="#1f77b4" stroke-width="2.083" fill="none" stroke-linejoin="round" stroke-linecap="square" clip-path="url(#c2)"/>
<path d="M120.5 924.5V565.5M1080.5 924.5V565.5M120.5 924.5H1080.5M120.5 565.5H1080.5" stroke="#000" stroke-width="1.111" fill="none" stroke-linecap="square"/>
</g>
<g id="ax3">
<rect x="180" y="102.7" width="240" height="205.4" fill="#fff"/>
<path d="M180.5 308.5V313.36" stroke="#000" stroke-width="1.111" fill="none"/>
<path d="M300.5 308.5V313.36" stroke="#000" stroke-width="1.111" fill="none"/>
<path d="M420.5 308.5V313.36" stroke="#000" stroke-width="1.111" fill="none"/>
<path d="M175.64 291.5H180.5" stroke="#000" stroke-width="1.111" fill="none"/>
<path d="M175.64 205.5H180.5" stroke="#000" stroke-width="1.111" fill="none"/>
<path d="M175.64 120.5H180.5" stroke="#000" stroke-width="1.111" fill="none"/>
<text font-size="25" x="161.11 175.8 183.83" y="336.82">0.0</text>
<text font-size="25" x="281.11 295.8 303.94" y="336.82">0.5</text>
<text font-size="25" x="401.09 415.8 423.83" y="336.82">1.0</text>
<text font-size="25" x="134.26 153.9" y="300.48">−1</text>
<text font-size="25" x="155.1" y="214.9">0</text>
<text font-size="25" x="154.9" y="129.31">1</text>
<path d="M180 182.5H181H182V181.5H183H184H185H186H187H188H189H190H191H192H193H194H195H196H197H198H199V181H200H201V181.5H202H203H204H205H206V182.5H207V182H208V183H209V182.5H210H211H212V182H213V181.5H214H215V181H216V180.5H217H218V181H219V180.5H220V181H221V181.5H222H223V182H224H225V182.5H226V183H227H228V182.5H229V182H230H231H232V181.5H233H234V181H235H236H237V180.5H238H239H240H241H242H243V180H244H245H246V181H247H248H249V180.5H250H251V181H252H253H254H255V180.5H256H257H258V180H259H260V181H261H262V180.5H263H264H265H266H267H268V180H269H270H271V181H272V181.5H273H274V182H275V182.5H276V183H277V183.5H278H279V184H280V184.5H281V184H282H283V183.5H284V183H285V182.5H286H287H288V183H289H290H291V182.5H292H293H294V183H295H296H297V182.5H298H299H300V182H301H302H303H304H305V181.5H306V182H307H308H309H310V182.5H311V182H312H313V182.5H314H315H316H317V183H318H319H320H321V182.5H322V183H323H324H325H326V182.5H327H328H329H330V183H331V182.5H332V183H333H334V183.5H335V184H336H337V184.5H338V185H339H340V185.5H341V185H342V184.5H343V184H344V183.5H345V183H346V182.5H347H348V182H349H350V181.5H351V182H352H353H354V182.5H355H356V183H357V183.5H358H359V183H360H361V182.5H362V182H363H364V181.5H365H366V182H367H368V183H369H370H371H372H373V183.5H374H375V184H376V183.5H377H378H379H380H381V183H382H383H384H385V184H386V184.5H387H388H389H390H391V184H392V183.5H393V184H394V183.5H395H396V183H397V182.5H398V182H399V181.5H400H401H402V182H403H404H405H406H407H408V182.5H409V183H410V183.5H411V184H412H413V183H414V182.5H415V183.5H416V182.5H417V182H418H419H420V181.5V236.5H419H418H417H416H415H414V236H413H412H411V236.5H410H409V236H408V235H407H406H405H404V235.5H403V236H402V236.5H401H400H399V237.5H398H397H396V236.5H395V236H394V235.5H393V235H392V234.5H391V234H390V233.5H389V234.5H388H387V235H386H385H384V236H383V236.5H382H381H380H379V237H378V236.5H377V237H376V236.5H375H374V236H373H372V236.5H371H370V235.5H369H368V236.5H367H366H365V235.5H364V235H363V235.5H362H361H360H359H358H357V235H356H355V235.5H354H353V236H352H351H350V237H349H348H347V236.5H346V236H345H344H343V235.5H342H341V235H340H339H338H337H336V234.5H335H334H333H332H331H330H329H328V235H327H326H325V234H324H323H322H321V234.5H320H319V235H318V235.5H317H316H315H314H313V235H312V235.5H311V236H310H309V236.5H308V236H307V236.5H306H305V236H304H303H302H301V235.5H300V235H299V234.5H298H297H296H295H294H293H292H291H290H289V235H288V235.5H287V236H286V235.5H285V235H284H283H282H281H280H279H278V235.5H277V236H276H275V236.5H274V237H273H272V237.5H271V238H270H269H268V238.5H267V238H266H265V238.5H264H263H262V238H261H260H259H258H257H256H255V237.5H254H253H252H251V237H250H249V238H248H247V237.5H246H245V238H244V238.5H243H242V239H241V238.5H240H239H238V238H237H236H235H234H233H232V237.5H231H230H229H228H227V238H226V237.5H225V236.5H224H223V237H222V236.5H221V237H220V237.5H219H218V238H217H216H215H214V239H213H212V238.5H211V239H210H209V238.5H208H207H206H205H204H203H202V238H201H200H199H198H197V237.5H196V237H195H194V237.5H193H192V237H191H190H189H188V236.5H187H186V236H185V236.5H184H183V237H182H181H180Z" fill="#1f77b4" clip-path="url(#c3)"/>
<path d="M180.5 308.5V103.5M420.5 308.5V103.5M180.5 308.5H420.5M180.5 103.5H420.5" stroke="#000" stroke-width="1.111" fill="none" stroke-linecap="square"/>
</g>
</svg>
</body></html>
